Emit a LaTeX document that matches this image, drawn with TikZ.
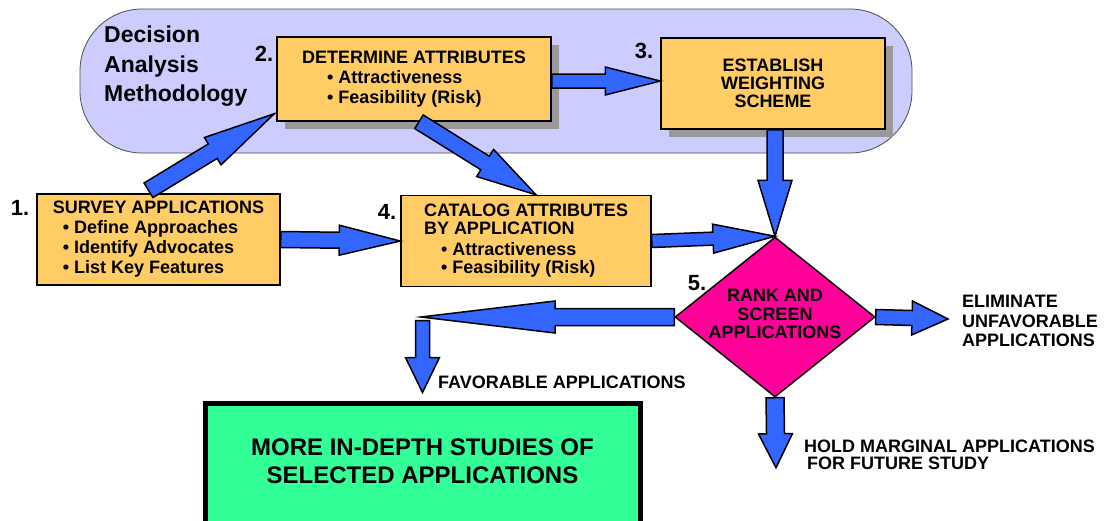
\documentclass[tikz,border=0pt]{standalone}
\usepackage{fontspec}
\setmainfont{Liberation Sans}
\usetikzlibrary{calc,shapes.geometric,shadows}
\definecolor{lavender}{HTML}{CCCCFF}
\definecolor{boxorange}{HTML}{FFCC66}
\definecolor{arrowblue}{HTML}{3366FF}
\definecolor{rankpink}{HTML}{FF0099}
\definecolor{studygreen}{HTML}{33FF99}
\def \ind {\hspace*{10pt}}
% block arrow: from, to, shaft half width, head half width, head length
\newcommand{\blockarrow}[5]{%
  \coordinate (ba-n) at ($(#2)!#5!(#1)$);
  \filldraw[bigarrow] ($(#1)!#3!90:(#2)$) -- ($(ba-n)!#3!-90:(#1)$)
    -- ($(ba-n)!#4!-90:(#1)$) -- (#2) -- ($(ba-n)!#4!90:(#1)$)
    -- ($(ba-n)!#3!90:(#1)$) -- ($(#1)!#3!-90:(#2)$) -- cycle;
}

\begin{document}
\begin{tikzpicture}[x=1pt,y=-1pt,
    stepbox/.style={draw,line width=1.5pt,fill=boxorange,inner sep=0pt,
      font=\fontsize{18}{20}\selectfont\bfseries},
    shadowed/.style={drop shadow={shadow xshift=8pt,shadow yshift=-8pt,
      fill=black!40,opacity=1}},
    num/.style={font=\fontsize{22}{22}\selectfont\bfseries,inner sep=0pt},
    outlbl/.style={font=\fontsize{18}{19.5}\selectfont\bfseries,align=left,
      inner sep=0pt,anchor=west},
    bigarrow/.style={draw=black,fill=arrowblue,line width=1.5pt,line join=miter}]
  \useasboundingbox (0,0) rectangle (1109,520);
  \clip (0,0) rectangle (1109,520);

  % decision analysis methodology
  \node[draw=black!70,fill=lavender,rounded corners=62pt,line width=0.8pt,
    minimum width=832pt,minimum height=144pt] (dam) at (496,81) {};
  \node[font=\fontsize{23}{29.5}\selectfont\bfseries,align=left,inner sep=0pt,
    anchor=north west] (damlbl) at (104,26) {Decision\\Analysis\\Methodology};

  % steps
  \node[stepbox,align=left,minimum width=243pt,minimum height=91pt] (survey)
    at (158.5,239.5) {SURVEY APPLICATIONS\\ \ind• Define Approaches\\
    \ind• Identify Advocates\\ \ind• List Key Features};
  \node[stepbox,shadowed,align=left,minimum width=274pt,minimum height=84pt]
    (determine) at (414,79) {DETERMINE ATTRIBUTES\\
    \hspace*{25pt}• Attractiveness\\ \hspace*{25pt}• Feasibility (Risk)};
  \node[stepbox,shadowed,align=center,minimum width=224pt,minimum height=91pt,
    font=\fontsize{18}{18}\selectfont\bfseries] (weighting) at (773,83.5)
    {ESTABLISH\\WEIGHTING\\SCHEME};
  \node[stepbox,align=left,minimum width=250pt,minimum height=91pt,
    font=\fontsize{18}{18}\selectfont\bfseries] (catalog) at (526,241)
    {CATALOG ATTRIBUTES\\BY APPLICATION\\[3pt] \hspace*{17pt}• Attractiveness\\
    \hspace*{17pt}• Feasibility (Risk)};
  \node[diamond,draw,line width=1.5pt,fill=rankpink,minimum width=200pt,
    minimum height=160pt,inner sep=0pt,
    label={[align=center,font=\fontsize{18}{18.5}\selectfont\bfseries,
      yshift=3pt]center:RANK AND\\SCREEN\\APPLICATIONS}] (rank) at (775,317) {};
  \node[draw,line width=5pt,fill=studygreen,minimum width=435pt,
    minimum height=132pt,
    label={[align=center,font=\fontsize{24}{28}\selectfont\bfseries,
      yshift=8pt]center:MORE IN-DEPTH STUDIES OF\\SELECTED APPLICATIONS}]
    (studies) at (422.5,469) {};

  \node[num] (n1) at (20,208) {1.};
  \node[num] (n2) at (264,54) {2.};
  \node[num] (n3) at (644,51) {3.};
  \node[num] (n4) at (387,212) {4.};
  \node[num] (n5) at (697,283) {5.};

  \node[outlbl] (favlbl) at (438,382) {FAVORABLE APPLICATIONS};
  \node[outlbl] (elimlbl) at (962,321) {ELIMINATE\\UNFAVORABLE\\APPLICATIONS};
  \node[outlbl,font=\fontsize{18}{17}\selectfont\bfseries] (holdlbl) at (804,455)
    {HOLD MARGINAL APPLICATIONS\\ \hspace*{3pt}FOR FUTURE STUDY};

  % connectors
  \coordinate (t12) at ($(survey.north)+(-10,-3)$);
  \coordinate (h12) at ($(determine.south west)+(-2,-8)$);
  \coordinate (t24) at ($(determine.south)+(5,0)$);
  \coordinate (h24) at ($(catalog.north)+(10,0)$);
  \coordinate (t23) at ($(determine.east)+(0,2)$);
  \coordinate (h23) at (weighting.west |- t23);
  \coordinate (t35) at (weighting.south -| rank.north);
  \coordinate (fav) at (421,317);
  \coordinate (favtop) at ($(studies.north)+(0,-80)$);
  \coordinate (favtip) at ($(studies.north)+(0,-8)$);
  \coordinate (elim) at ($(elimlbl.west)+(-14,-2)$);
  \coordinate (hold) at ($(rank.south)+(1,70)$);

  \blockarrow{t12}{h12}{8.5pt}{16pt}{72pt}
  \blockarrow{t24}{h24}{8pt}{16pt}{60pt}
  \blockarrow{t23}{h23}{7pt}{14pt}{55pt}
  \blockarrow{t35}{rank.north}{8pt}{17pt}{56pt}
  \blockarrow{catalog.east}{rank.north}{6.5pt}{14.5pt}{62pt}
  \blockarrow{survey.east}{catalog.west}{8pt}{15pt}{61pt}
  \blockarrow{rank.west}{fav}{8.5pt}{16pt}{134pt}
  \blockarrow{favtop}{favtip}{7pt}{17pt}{35pt}
  \blockarrow{rank.east}{elim}{7.5pt}{17pt}{36pt}
  \blockarrow{rank.south}{hold}{9pt}{17pt}{34pt}
\end{tikzpicture}
\end{document}
